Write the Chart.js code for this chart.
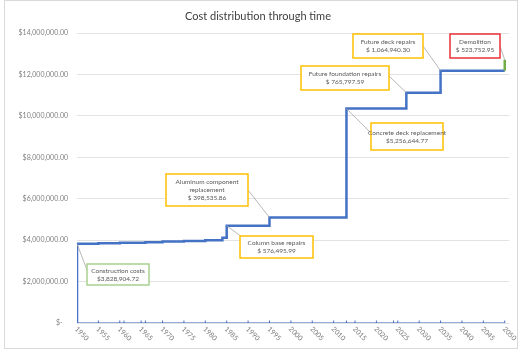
<!DOCTYPE html>
<html>
<head>
<meta charset="utf-8">
<title>Cost distribution through time</title>
<script src="https://cdn.jsdelivr.net/npm/chart.js@4.4.1/dist/chart.umd.min.js"></script>
<style>
  html, body { margin: 0; padding: 0; background: #ffffff; }
  #wrap { width: 522px; height: 350px; position: relative; }
</style>
</head>
<body>
<div id="wrap"><canvas id="chart" width="522" height="350"></canvas></div>
<script>
// Cost events: year and amount spent in that year
const eventYears = [1950, 1955, 1960, 1966, 1970, 1975, 1980, 1984, 1985, 1995, 2013, 2027, 2035, 2050];
const eventCosts = [3828904.72, 20000, 25000, 30000, 25000, 30000, 30000, 130000,
                    576495.99, 398535.86, 5256644.77, 765797.59, 1064940.30, 523752.95];

// Labelled cost items (index into eventYears / eventCosts)
const calloutNames = ["Construction costs", "Column base repairs", "Aluminum component replacement",
                      "Concrete deck replacement", "Future foundation repairs", "Future deck repairs", "Demolition"];
const calloutEvents = [0, 8, 9, 10, 11, 12, 13];

// Horizontal axis labels and baseline marks
const yearTicks = [1950, 1955, 1960, 1965, 1970, 1975, 1980, 1985, 1990, 1995, 2000,
                   2005, 2010, 2015, 2020, 2025, 2030, 2035, 2040, 2045, 2050];
const baselineYears = [1950, 1955, 1960, 1961, 1965, 1966, 1970, 1975, 1980, 1985, 1990, 1995,
                       2000, 2005, 2010, 2013, 2015, 2020, 2024, 2025, 2030, 2035, 2040, 2045, 2050];

// Vertical axis range
const yMin = 0, yMax = 14000000, yStep = 2000000;

// Running totals after each event
const totals = [];
eventCosts.reduce((acc, c) => { totals.push(acc + c); return acc + c; }, 0);

// Cumulative cost line: each event adds a vertical rise at its year
const cumulative = [];
eventYears.forEach((yr, i) => {
  cumulative.push({ x: yr, y: i === 0 ? 0 : totals[i - 1] });
  cumulative.push({ x: yr, y: totals[i] });
});
const baseline = baselineYears.map(yr => ({ x: yr, y: 0 }));

const FONT = "Lato, 'Liberation Sans', sans-serif";
const BLUE = "#4472C4";
const GREEN = "#70AD47";

function money(v) {
  return "$" + v.toLocaleString("en-US", { minimumFractionDigits: 2, maximumFractionDigits: 2 });
}
function moneySpaced(v) {
  return "$ " + v.toLocaleString("en-US", { minimumFractionDigits: 2, maximumFractionDigits: 2 });
}

// Callout boxes: [left, top, width, height], border colour, amount format, leader start
const calloutStyle = [
  { box: [87, 264, 62, 21], color: "#A9D18E", fmt: money,       from: [87, 270],  lines: 1 },
  { box: [240, 236, 73, 22], color: "#FFC000", fmt: moneySpaced, from: [242, 237], lines: 1 },
  { box: [166, 174, 82, 32], color: "#FFC000", fmt: moneySpaced, from: [248, 190], lines: 2 },
  { box: [371, 123, 72, 27], color: "#FFC000", fmt: money,       from: [371, 133], lines: 1 },
  { box: [301, 66, 88, 24],  color: "#FFC000", fmt: moneySpaced, from: [389, 76],  lines: 1 },
  { box: [353, 34, 70, 24],  color: "#FFC000", fmt: moneySpaced, from: [423, 46],  lines: 1 },
  { box: [450, 34, 50, 24],  color: "#E8303A", fmt: moneySpaced, from: [500, 46],  lines: 1 }
];

const decorPlugin = {
  id: "decor",
  beforeDraw(chart) {
    const ctx = chart.ctx;
    ctx.save();
    ctx.fillStyle = "#ffffff";
    ctx.fillRect(0, 0, chart.width, chart.height);
    ctx.strokeStyle = "#d9d9d9";
    ctx.lineWidth = 1;
    ctx.strokeRect(4.5, 0.5, chart.width - 9, chart.height - 2);
    ctx.restore();
  },
  afterDraw(chart) {
    const ctx = chart.ctx;
    const xs = chart.scales.x, ys = chart.scales.y;
    ctx.save();
    // title
    ctx.fillStyle = "#404040";
    ctx.font = "11px " + FONT;
    ctx.textAlign = "center";
    ctx.textBaseline = "middle";
    ctx.fillText("Cost distribution through time", 258, 16);

    // rotated year labels
    ctx.fillStyle = "#7a7a7a";
    ctx.font = "7px " + FONT;
    ctx.textAlign = "left";
    yearTicks.forEach(yr => {
      const px = xs.getPixelForValue(yr);
      ctx.save();
      ctx.translate(px - 1, ys.bottom + 5);
      ctx.rotate(Math.PI / 4);
      ctx.fillText(String(yr), 0, 0);
      ctx.restore();
    });

    // callouts
    calloutEvents.forEach((ev, i) => {
      const st = calloutStyle[i];
      const tx = xs.getPixelForValue(eventYears[ev]);
      const ty = ys.getPixelForValue(totals[ev]);
      ctx.strokeStyle = "#a6a6a6";
      ctx.lineWidth = 0.8;
      ctx.beginPath();
      ctx.moveTo(st.from[0], st.from[1]);
      ctx.lineTo(tx, ty);
      ctx.stroke();

      const [bx, by, bw, bh] = st.box;
      ctx.fillStyle = "#ffffff";
      ctx.fillRect(bx, by, bw, bh);
      ctx.strokeStyle = st.color;
      ctx.lineWidth = 1.5;
      ctx.strokeRect(bx, by, bw, bh);

      const name = calloutNames[i];
      let textLines;
      if (st.lines === 2) {
        const cut = name.lastIndexOf(" ");
        textLines = [name.slice(0, cut), name.slice(cut + 1), st.fmt(eventCosts[ev])];
      } else {
        textLines = [name, st.fmt(eventCosts[ev])];
      }
      ctx.fillStyle = "#595959";
      ctx.font = "6.5px " + FONT;
      ctx.textAlign = "center";
      ctx.textBaseline = "middle";
      const lh = 8;
      const cy = by + bh / 2 - (textLines.length - 1) * lh / 2;
      textLines.forEach((t, k) => ctx.fillText(t, bx + bw / 2, cy + k * lh));
    });
    ctx.restore();
  }
};

const lastIdx = cumulative.length - 1;

new Chart(document.getElementById("chart"), {
  type: "line",
  data: {
    datasets: [
      {
        label: "Baseline",
        data: baseline,
        borderColor: "#6f8fd6",
        borderWidth: 1.5,
        pointStyle: "line",
        rotation: 90,
        pointRadius: 2.5,
        pointBorderWidth: 1,
        pointBorderColor: "#4a6fc0",
        order: 2
      },
      {
        label: "Cumulative cost",
        data: cumulative,
        stepped: "before",
        borderColor: BLUE,
        borderWidth: 2.5,
        pointRadius: 0,
        segment: {
          borderColor: c => (c.p1DataIndex === lastIdx ? GREEN : BLUE)
        },
        order: 1
      }
    ]
  },
  options: {
    responsive: false,
    animation: false,
    layout: { padding: { top: 33, right: 13, left: 0, bottom: 0 } },
    plugins: {
      legend: { display: false },
      title: { display: false },
      tooltip: { enabled: false }
    },
    scales: {
      x: {
        type: "linear",
        min: 1950,
        max: 2051,
        ticks: { display: false },
        grid: { display: false },
        border: { display: false },
        afterFit: s => { s.height = 27; }
      },
      y: {
        min: yMin,
        max: yMax,
        ticks: {
          stepSize: yStep,
          padding: 9,
          color: "#808080",
          font: { family: FONT, size: 7 },
          callback: v => (v === 0 ? "$-   " : money(v))
        },
        grid: { color: "#e3e3e3", lineWidth: 1, drawTicks: false },
        border: { display: false },
        afterFit: s => { s.width = 77; }
      }
    }
  },
  plugins: [decorPlugin]
});
</script>
</body>
</html>
